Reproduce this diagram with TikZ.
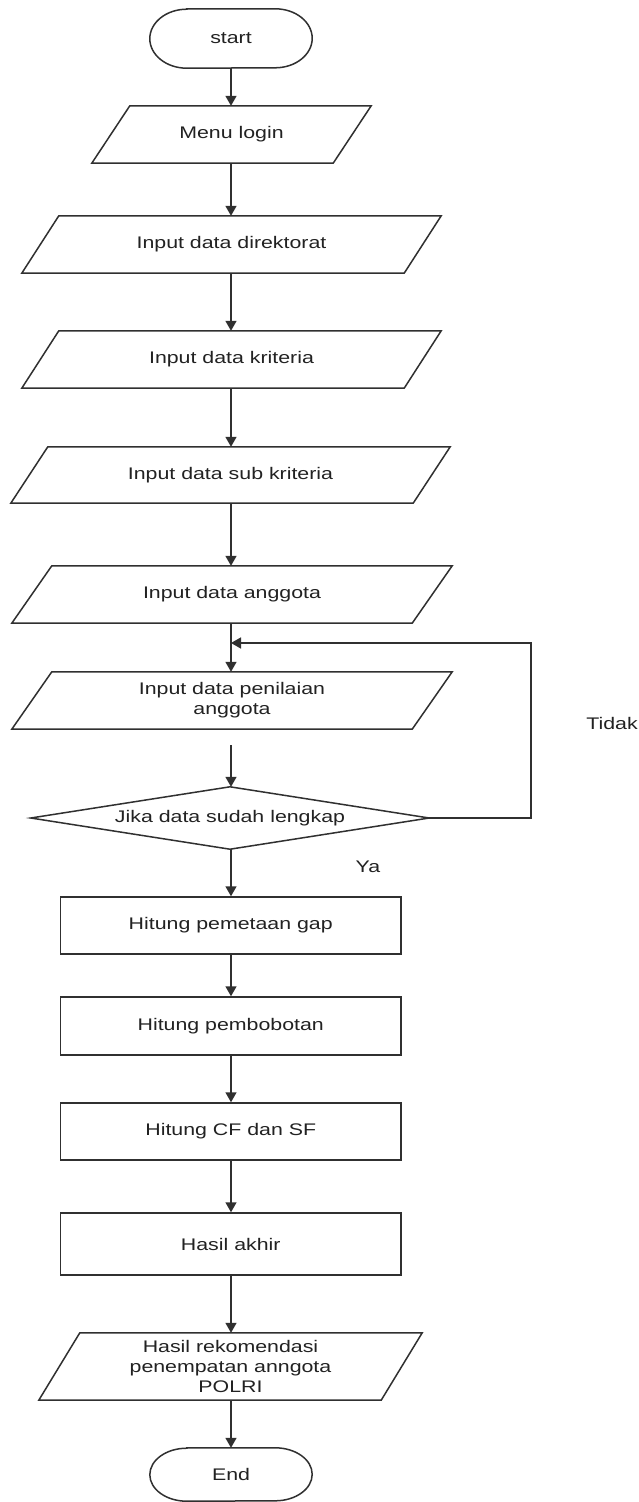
\documentclass[tikz,border=0pt]{standalone}
\usepackage{fontspec}
\newfontfamily\lbl[FakeStretch=1.27]{Liberation Sans}
\usetikzlibrary{arrows.meta}
\definecolor{linec}{HTML}{303030}
\definecolor{txtc}{HTML}{222222}
\begin{document}
\begin{tikzpicture}[x=1pt,y=1pt,
  every node/.style={font=\lbl\fontsize{16.8}{20}\selectfont, text=txtc, inner sep=0pt, align=center},
  lineS/.style={draw=linec, line width=1.5pt},
  arr/.style={lineS, -{Triangle[length=10pt,width=11pt]}},
  io/.style n args={3}{rectangle, minimum width=#1, minimum height=#2,
    append after command={\pgfextra{\draw[lineS] ([xshift=#3]\tikzlastnode.north west) -- ([xshift=#3]\tikzlastnode.north east)
      -- ([xshift=-#3]\tikzlastnode.south east) -- ([xshift=-#3]\tikzlastnode.south west) -- cycle;}}},
  term/.style n args={4}{rectangle, minimum width=#1, minimum height=#2,
    append after command={\pgfextra{\draw[lineS] ([xshift=#3]\tikzlastnode.north west) -- ([xshift=-#3]\tikzlastnode.north east)
      arc[start angle=90, end angle=-90, x radius=#3, y radius=#4]
      -- ([xshift=#3]\tikzlastnode.south west)
      arc[start angle=270, end angle=90, x radius=#3, y radius=#4] -- cycle;}}},
  dec/.style 2 args={rectangle, minimum width=#1, minimum height=#2,
    append after command={\pgfextra{\draw[lineS] (\tikzlastnode.north) -- (\tikzlastnode.east) -- (\tikzlastnode.south) -- (\tikzlastnode.west) -- cycle;}}},
  proc/.style 2 args={rectangle, lineS, minimum width=#1, minimum height=#2}
]
\useasboundingbox (0,0) rectangle (638,-1502);
\fill[white] (0,0) rectangle (638,-1502);

\node[term={162pt}{59pt}{37pt}{29.5pt}] (start) at (231,-38.5) {start};
\node[io={241pt}{57pt}{19pt}] (login) at (231.5,-134.5) {Menu login};
\node[io={382pt}{57pt}{18.5pt}] (dir) at (231.5,-244.5) {Input data direktorat};
\node[io={382pt}{57pt}{18.5pt}] (krit) at (231.5,-359.5) {Input data kriteria};
\node[io={402pt}{56pt}{18.5pt}] (sub) at (230.5,-475) {Input data sub kriteria};
\node[io={400pt}{57pt}{20pt}] (angg) at (232,-594.5) {Input data anggota};
\node[io={400pt}{57pt}{20pt}] (nilai) at (232,-700.5) {Input data penilaian\\anggota};
\node[dec={398pt}{62pt}] (jika) at (230,-818) {Jika data sudah lengkap};
\node[proc={340.5pt}{57pt}] (gap) at (230.75,-925.5) {Hitung pemetaan gap};
\node[proc={340.5pt}{58pt}] (bobot) at (230.75,-1026) {Hitung pembobotan};
\node[proc={340.5pt}{57pt}] (cf) at (230.75,-1131.5) {Hitung CF dan SF};
\node[proc={340.5pt}{62pt}] (akhir) at (230.75,-1244) {Hasil akhir};
\node[io={342pt}{67pt}{20.5pt}] (rek) at (230.5,-1366.5) {Hasil rekomendasi\\penempatan anngota\\POLRI};
\node[term={162pt}{53pt}{37pt}{26.5pt}] (end) at (231,-1474.5) {End};
\node (tidak) at (612,-723) {Tidak};
\node (ya) at (368,-867) {Ya};

\coordinate (lr) at (531,-643);
\coordinate (lj) at (231,-643);

\draw[arr] (start.south) -- (start.south |- login.north);
\draw[arr] (start.south |- login.south) -- (start.south |- dir.north);
\draw[arr] (start.south |- dir.south) -- (start.south |- krit.north);
\draw[arr] (start.south |- krit.south) -- (start.south |- sub.north);
\draw[arr] (start.south |- sub.south) -- (start.south |- angg.north);
\draw[arr] (start.south |- angg.south) -- (start.south |- nilai.north);
\draw[arr, shorten <=16pt] (start.south |- nilai.south) -- (start.south |- jika.north);
\draw[arr] (jika.east) -| (lr) -- (lj);
\draw[arr] (start.south |- jika.south) -- (start.south |- gap.north);
\draw[arr] (start.south |- gap.south) -- (start.south |- bobot.north);
\draw[arr] (start.south |- bobot.south) -- (start.south |- cf.north);
\draw[arr] (start.south |- cf.south) -- (start.south |- akhir.north);
\draw[arr] (start.south |- akhir.south) -- (start.south |- rek.north);
\draw[arr] (start.south |- rek.south) -- (start.south |- end.north);
\end{tikzpicture}
\end{document}
